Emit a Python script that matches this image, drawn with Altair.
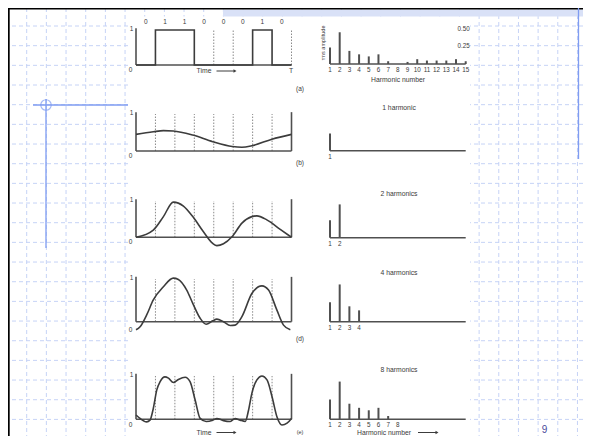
import altair as alt
import pandas as pd

OFF = 8
W, H = 575, 428
FONT = "Liberation Sans"
TC = "#3a3a3a"
LC = "#505050"

# ---------------- data ----------------
bit_labels = ["0", "1", "1", "0", "0", "0", "1", "0"]
bit_centers = [0.5, 1.5, 2.5, 3.5, 4.5, 5.5, 6.5, 7.5]

square_t = [0, 1, 1, 3, 3, 6, 6, 7, 7, 8]
square_v = [0, 0, 1, 1, 0, 0, 1, 1, 0, 0]

b_t = [0, 0.89, 1.41, 1.92, 2.92, 3.95, 4.95, 5.45, 5.96, 6.99, 8]
b_v = [0.45, 0.52, 0.55, 0.54, 0.43, 0.25, 0.12, 0.10, 0.14, 0.32, 0.45]

c_t = [0, 0.89, 1.41, 1.92, 2.44, 2.92, 3.47, 3.95, 4.16, 4.5, 4.95, 5.45, 5.96, 6.22, 6.73, 7.42, 8]
c_v = [0, 0.20, 0.57, 0.97, 0.86, 0.57, 0.15, -0.17, -0.23, -0.18, 0.02, 0.39, 0.57, 0.59, 0.48, 0.22, 0]

d_t = [0, 0.21, 0.55, 0.89, 1.41, 1.92, 2.18, 2.61, 2.92, 3.3, 3.61, 3.95, 4.16, 4.5,
       4.85, 5.1, 5.45, 5.96, 6.48, 6.82, 7.25, 7.59, 7.94]
d_v = [-0.19, -0.12, 0.16, 0.51, 0.82, 1.02, 0.99, 0.74, 0.43, 0.08, -0.06, 0.02, 0.06, 0.0,
       -0.09, -0.08, 0.12, 0.66, 0.84, 0.74, 0.27, -0.08, -0.19]

e_t = [0, 0.21, 0.55, 0.72, 0.89, 1.07, 1.24, 1.49, 1.67, 1.92, 2.18, 2.53, 2.78, 3.04,
       3.3, 3.61, 3.95, 4.16, 4.5, 4.85, 5.1, 5.36, 5.62, 5.79, 5.96, 6.22, 6.48, 6.74,
       7.0, 7.25, 7.51, 7.77, 8]
e_v = [0.10, 0.02, -0.06, -0.02, 0.25, 0.68, 0.87, 0.98, 0.95, 0.85, 0.92, 0.97, 0.87, 0.45,
       0.02, -0.05, -0.02, 0.02, -0.03, -0.05, 0.02, -0.02, -0.05, 0.21, 0.60, 0.91, 1.0, 0.91,
       0.52, 0.06, -0.13, -0.09, 0.02]

harmonics = list(range(1, 16))
rms = [0.24, 0.46, 0.19, 0.14, 0.11, 0.14, 0.04, 0.0, 0.03, 0.07, 0.05, 0.05, 0.05, 0.07, 0.04]

row_titles = {"b": "1 harmonic", "c": "2 harmonics", "d": "4 harmonics", "e": "8 harmonics"}
row_nharm = {"a": 15, "b": 1, "c": 2, "d": 4, "e": 8}

# ---------------- layout (pixels on the page) ----------------
TX = (136, 291.5)
HX = (330, 465.7)
ROWS = {
    "a": dict(y0=65, y1=30, sy0=64, k=69),
    "b": dict(y0=151, y1=114, sy0=150.7, k=72),
    "c": dict(y0=237.3, y1=201, sy0=237.7, k=72.4),
    "d": dict(y0=321.7, y1=279, sy0=321.7, k=81),
    "e": dict(y0=419.3, y1=376, sy0=419.3, k=82),
}
CURVES = {"a": (square_t, square_v), "b": (b_t, b_v), "c": (c_t, c_v), "d": (d_t, d_v), "e": (e_t, e_v)}


def lin(domain, rng):
    return alt.Scale(domain=domain, range=[rng[0] - OFF, rng[1] - OFF], nice=False, zero=False)


def xs_time():
    return lin([0, 8], TX)


def ys_time(r):
    return lin([0, 1], (ROWS[r]["y0"], ROWS[r]["y1"]))


def xs_harm():
    return lin([1, 15], HX)


def ys_harm(r):
    R = ROWS[r]
    return lin([0, 1], (R["sy0"], R["sy0"] - R["k"]))


ONE = pd.DataFrame({"_": [0]})


def ptxt(text, px, py, size=7, color=TC, align="center", angle=0, baseline="middle", font=FONT):
    return alt.Chart(ONE).mark_text(
        text=text, font=font, fontSize=size, color=color, align=align,
        angle=angle, baseline=baseline
    ).encode(x=alt.value(px - OFF), y=alt.value(py - OFF))


def prule(x1, y1, x2, y2, color, width, dash=None):
    kw = dict(color=color, strokeWidth=width)
    if dash:
        kw["strokeDash"] = dash
    return alt.Chart(ONE).mark_rule(**kw).encode(
        x=alt.value(x1 - OFF), x2=alt.value(x2 - OFF),
        y=alt.value(y1 - OFF), y2=alt.value(y2 - OFF))


layers = []

# ---------------- slide background ----------------
GRID = "#c6d3f6"
vgrid = pd.DataFrame({"k": list(range(0, 29))})
hgrid = pd.DataFrame({"k": list(range(0, 22))})
layers.append(alt.Chart(vgrid).mark_rule(color=GRID, strokeWidth=1, strokeDash=[4, 3]).encode(
    x=alt.X("k:Q", scale=lin([0, 1], (26.7, 46.37)), axis=None)))
layers.append(alt.Chart(hgrid).mark_rule(color=GRID, strokeWidth=1, strokeDash=[4, 3]).encode(
    y=alt.Y("k:Q", scale=lin([0, 1], (26, 45.67)), axis=None)))
# white figure area
layers.append(alt.Chart(ONE).mark_rect(color="white").encode(
    x=alt.value(128 - OFF), x2=alt.value(470 - OFF), y=alt.value(16.5 - OFF), y2=alt.value(H + 2)))
# checkered band
layers.append(alt.Chart(ONE).mark_rect(color="#d9e1f7").encode(
    x=alt.value(223 - OFF), x2=alt.value(W), y=alt.value(9.5 - OFF), y2=alt.value(16.5 - OFF)))
# black border
layers.append(prule(7, 8.6, 591, 8.6, "black", 1.8))
layers.append(prule(8.8, 7, 8.8, 444, "black", 1.8))
# blue decorations
BLUE = "#7f9cf2"
layers.append(prule(33, 105, 128, 105, BLUE, 1.3))
layers.append(prule(46, 99, 46, 248, BLUE, 1.3))
layers.append(prule(578.5, 7, 578.5, 159, BLUE, 1.3))
layers.append(alt.Chart(ONE).mark_point(shape="circle", size=110, filled=False, color=BLUE,
                                        strokeWidth=1.2).encode(
    x=alt.value(46 - OFF), y=alt.value(105 - OFF)))
# page number
layers.append(ptxt("9", 544.5, 430, size=10, color="#4a4a9a"))

# ---------------- figure panels ----------------
for r in ["a", "b", "c", "d", "e"]:
    xs, ys = xs_time(), ys_time(r)
    # dotted bit boundaries
    dot_t = [4, 5, 8] if r == "a" else [1, 2, 3, 4, 5, 6, 7]
    ddf = pd.DataFrame({"t": dot_t, "lo": 0, "hi": 1})
    layers.append(alt.Chart(ddf).mark_rule(color="#8a8a8a", strokeWidth=1, strokeDash=[1.5, 1.5]).encode(
        x=alt.X("t:Q", scale=xs, axis=None),
        y=alt.Y("lo:Q", scale=ys, axis=None), y2="hi:Q"))
    # frame
    fr = [(0, 8, 0, 0), (0, 0, 0, 1.05)]
    if r != "a":
        fr.append((8, 8, 0, 1.05))
    fdf = pd.DataFrame(fr, columns=["xa", "xb", "ya", "yb"])
    layers.append(alt.Chart(fdf).mark_rule(color=LC, strokeWidth=1.6).encode(
        x=alt.X("xa:Q", scale=xs, axis=None), x2="xb:Q",
        y=alt.Y("ya:Q", scale=ys, axis=None), y2="yb:Q"))
    # signal
    ct, cv = CURVES[r]
    cdf = pd.DataFrame({"t": ct, "v": cv, "o": list(range(len(ct)))})
    layers.append(alt.Chart(cdf).mark_line(
        color="#3c3c3c", strokeWidth=1.6,
        interpolate="linear" if r == "a" else "monotone").encode(
        x=alt.X("t:Q", scale=xs, axis=None),
        y=alt.Y("v:Q", scale=ys, axis=None), order="o:Q"))
    # level labels
    layers.append(alt.Chart(pd.DataFrame({"t": [0], "v": [1]})).mark_text(
        text="1", font=FONT, fontSize=6.5, color=TC, dx=-4.5, dy=-1.5).encode(
        x=alt.X("t:Q", scale=xs, axis=None), y=alt.Y("v:Q", scale=ys, axis=None)))
    zdy = 8 if r == "d" else (6 if r == "e" else 5)
    layers.append(alt.Chart(pd.DataFrame({"t": [0], "v": [0]})).mark_text(
        text="0", font=FONT, fontSize=6.5, color=TC, dx=-5.5, dy=zdy).encode(
        x=alt.X("t:Q", scale=xs, axis=None), y=alt.Y("v:Q", scale=ys, axis=None)))

    # spectrum
    hx, hy = xs_harm(), ys_harm(r)
    n = row_nharm[r]
    sdf = pd.DataFrame({"h": harmonics[:n], "a": rms[:n], "z": 0})
    layers.append(alt.Chart(sdf).mark_rule(color=LC, strokeWidth=2).encode(
        x=alt.X("h:Q", scale=hx, axis=None),
        y=alt.Y("z:Q", scale=hy, axis=None), y2="a:Q"))
    layers.append(alt.Chart(pd.DataFrame({"ha": [1], "hb": [15], "z": [0]})).mark_rule(
        color=LC, strokeWidth=1.6).encode(
        x=alt.X("ha:Q", scale=hx, axis=None), x2="hb:Q",
        y=alt.Y("z:Q", scale=hy, axis=None)))
    tdf = pd.DataFrame({"h": harmonics[:n], "lab": [str(h) for h in harmonics[:n]], "z": 0})
    layers.append(alt.Chart(tdf).mark_text(font=FONT, fontSize=6.3, color=TC, dy=6).encode(
        x=alt.X("h:Q", scale=hx, axis=None),
        y=alt.Y("z:Q", scale=hy, axis=None), text="lab:N"))
    if r in row_titles:
        R = ROWS[r]
        layers.append(ptxt(row_titles[r], 399, R["sy0"] - R["k"] * 0.59 - 0.5, size=6.8))

# bit labels over (a)
bdf = pd.DataFrame({"t": bit_centers, "lab": bit_labels, "v": 1})
layers.append(alt.Chart(bdf).mark_text(font=FONT, fontSize=6.5, color=TC, dy=-8).encode(
    x=alt.X("t:Q", scale=xs_time(), axis=None),
    y=alt.Y("v:Q", scale=ys_time("a"), axis=None), text="lab:N"))

# amplitude labels on (a) spectrum
adf = pd.DataFrame({"a": [0.5, 0.25], "lab": ["0.50", "0.25"], "h": 15})
layers.append(alt.Chart(adf).mark_text(font=FONT, fontSize=6.3, color=TC, align="right", dx=4, dy=-1).encode(
    x=alt.X("h:Q", scale=xs_harm(), axis=None),
    y=alt.Y("a:Q", scale=ys_harm("a"), axis=None), text="lab:N"))

# annotations
layers.append(ptxt("rms amplitude", 322.5, 43, size=5.6, angle=270))
layers.append(ptxt("Harmonic number", 398, 80, size=6.8))
layers.append(ptxt("T", 291, 71, size=6.8))
for yy in (71, 432.5):
    layers.append(ptxt("Time", 204, yy, size=6.8))
    layers.append(prule(216.5, yy, 234, yy, "#3c3c3c", 1))
    layers.append(alt.Chart(ONE).mark_point(shape="triangle-right", size=12, filled=True,
                                            color="#3c3c3c", opacity=1).encode(
        x=alt.value(235 - OFF), y=alt.value(yy - OFF)))
layers.append(ptxt("Harmonic number", 384, 432.5, size=6.8))
layers.append(prule(418, 432.5, 436, 432.5, "#3c3c3c", 1))
layers.append(alt.Chart(ONE).mark_point(shape="triangle-right", size=12, filled=True,
                                        color="#3c3c3c", opacity=1).encode(
    x=alt.value(437 - OFF), y=alt.value(432.5 - OFF)))
layers.append(ptxt("(a)", 300, 89, size=6.5))
layers.append(ptxt("(b)", 300, 163, size=6.5))
layers.append(ptxt("(d)", 300, 338.5, size=6.5))
layers.append(ptxt("(e)", 300, 432, size=5.5))

chart = alt.layer(*layers).resolve_scale(x="independent", y="independent").properties(
    width=W, height=H, padding=0, autosize=alt.AutoSizeParams(type="none"),
    background="white"
).configure_view(stroke=None)

chart.save("out.html", embed_options={"renderer": "svg", "actions": False})
